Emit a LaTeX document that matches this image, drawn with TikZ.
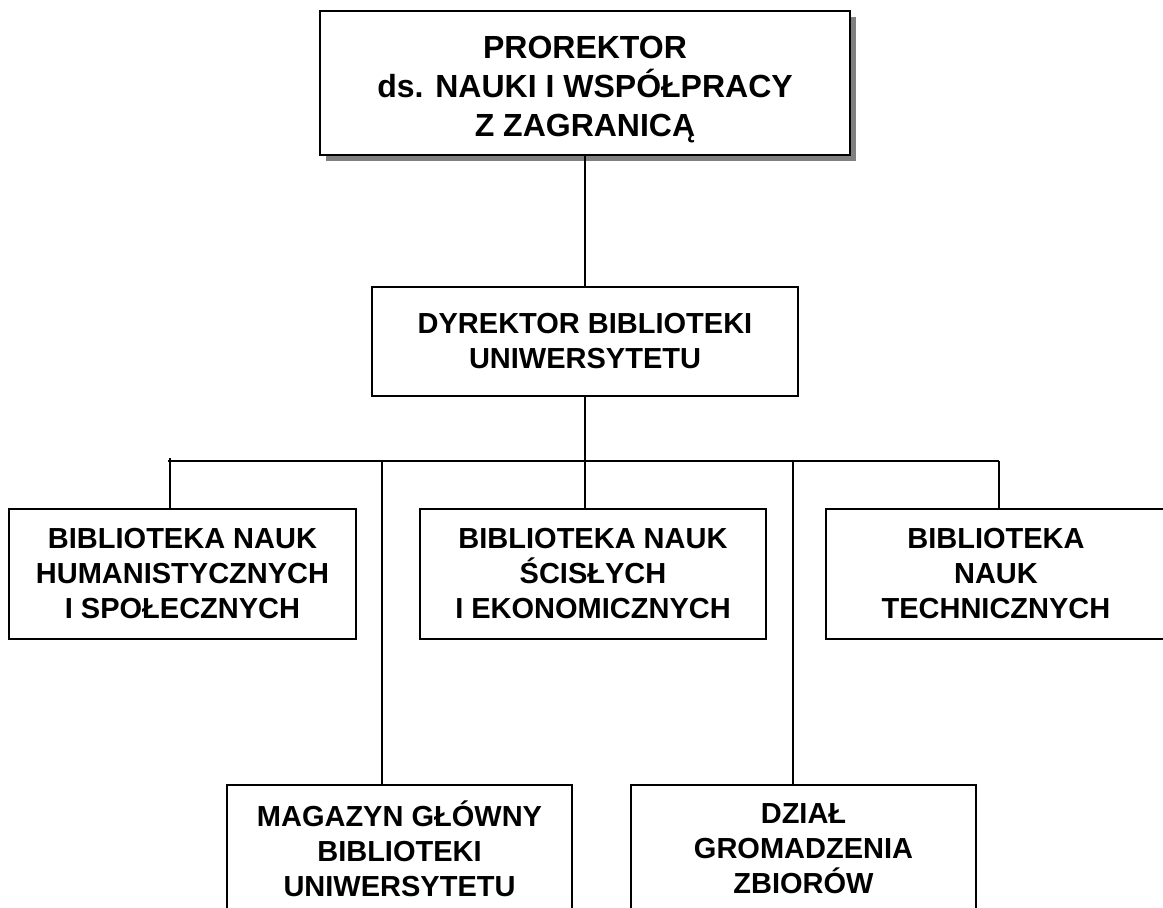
\documentclass[tikz,border=0pt]{standalone}
\usepackage{fontspec}
\setmainfont{Liberation Sans}
\begin{document}
\begin{tikzpicture}[x=1pt,y=-1pt,
  orgbox/.style={draw=black, line width=1.6pt, fill=white, align=center,
    font=\fontsize{29}{35}\selectfont\bfseries, inner sep=0pt},
  headtext/.style={align=center, inner sep=0pt,
    font=\fontsize{32}{39}\selectfont\bfseries},
  link/.style={draw=black, line width=1.6pt}]
\useasboundingbox (0,0) rectangle (1163,908);

% head of the chart, with its drop shadow
\fill[black!50] (326,17) rectangle (856,161);
\node[orgbox, minimum width=530pt, minimum height=144pt] (prorektor) at (585,83) {};
\node[headtext, yshift=-7pt] (prorektorText) at (prorektor.center)
  {PROREKTOR\\ds. NAUKI I WSPÓŁPRACY\\Z ZAGRANICĄ};

\node[orgbox, minimum width=426pt, minimum height=109pt] (dyrektor) at (585,341.5)
  {DYREKTOR BIBLIOTEKI\\UNIWERSYTETU};

% branch libraries
\node[orgbox, minimum width=347pt, minimum height=130pt] (hum) at (182.5,574)
  {BIBLIOTEKA NAUK\\HUMANISTYCZNYCH\\I SPOŁECZNYCH};
\node[orgbox, minimum width=346pt, minimum height=130pt] (sci) at (593,574)
  {BIBLIOTEKA NAUK\\ŚCISŁYCH\\I EKONOMICZNYCH};
\node[orgbox, minimum width=340pt, minimum height=130pt] (tech) at (996,574)
  {BIBLIOTEKA\\NAUK\\TECHNICZNYCH};

% lower units
\node[orgbox, minimum width=345pt, minimum height=128pt] (mag) at (399.5,849)
  {MAGAZYN GŁÓWNY\\BIBLIOTEKI\\UNIWERSYTETU};
\node[orgbox, minimum width=345pt, minimum height=128pt] (dzial) at (803.5,849)
  {DZIAŁ\\GROMADZENIA\\ZBIORÓW};

% distribution bus
\coordinate (busL) at (168,461);
\coordinate (busR) at (999,461);
\coordinate (tapH) at (170,461);
\coordinate (tapM) at (382,461);
\coordinate (tapD) at (793,461);

\draw[link] (prorektor.south) -- (dyrektor.north);
\draw[link] (busL) -- (busR);
\draw[link] (dyrektor.south) -- (dyrektor.south |- sci.north);
\draw[link] (tapH) ++(0,-3) -- (tapH |- hum.north);
\draw[link] (busR) -- (busR |- tech.north);
\draw[link] (tapM) -- (tapM |- mag.north);
\draw[link] (tapD) -- (tapD |- dzial.north);
\end{tikzpicture}
\end{document}
